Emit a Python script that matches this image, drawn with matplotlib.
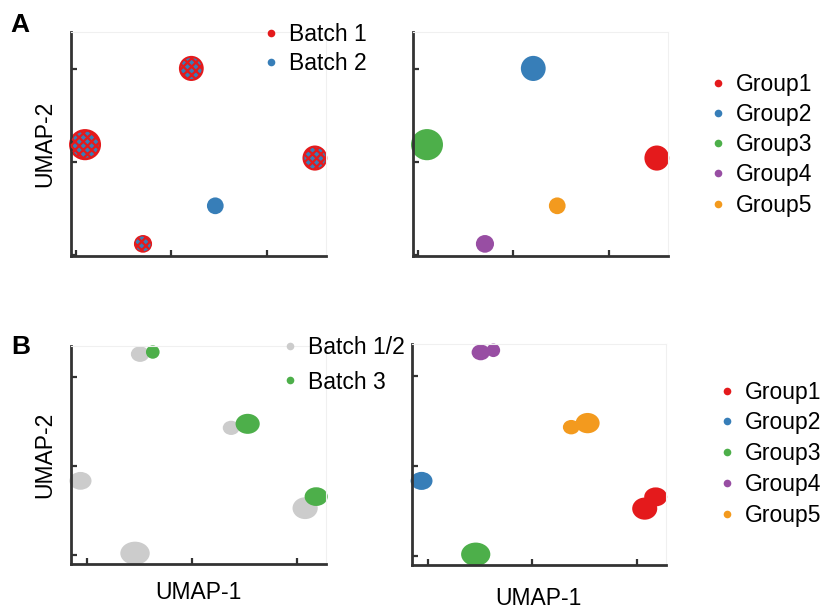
import numpy as np
import matplotlib.pyplot as plt
from matplotlib.patches import Ellipse
from matplotlib.lines import Line2D

plt.rcParams['font.family'] = ['Liberation Sans', 'DejaVu Sans']
plt.rcParams['hatch.linewidth'] = 1.6

group_names = ["Group1", "Group2", "Group3", "Group4", "Group5"]
group_colors = ["#E41A1C", "#377EB8", "#4DAF4A", "#984EA3", "#F39A1E"]

# --- Panel A: two batches, one UMAP embedding ---
a_x = [15.02, 2.08, -9.05, -2.98, 4.59]      # cluster centres, UMAP-1
a_y = [0.40, 10.03, 1.84, -8.82, -4.73]      # cluster centres, UMAP-2
a_w = [2.6, 2.6, 3.35, 1.9, 1.75]            # cluster extent, UMAP-1
a_h = [2.7, 2.7, 3.35, 1.9, 1.8]             # cluster extent, UMAP-2
a_mixed = [True, True, True, True, False]    # True: batch 1 and 2 both present
a_batch_names = ["Batch 1", "Batch 2"]
a_batch_colors = ["#E41A1C", "#377EB8"]

# --- Panel B: batch 3 added; each cluster split into its batch parts ---
b_group = [3, 3, 4, 4, 1, 0, 0, 2]
b_batch = [0, 1, 0, 1, 0, 0, 1, 0]           # 0: batch 1/2, 1: batch 3
b_x = [-4.95, -3.74, 3.72, 5.29, -10.62, 10.76, 11.81, -5.43]
b_y = [12.56, 12.79, 4.28, 4.73, -1.67, -4.74, -3.44, -9.80]
b_w = [1.75, 1.3, 1.6, 2.3, 2.1, 2.4, 2.2, 2.8]
b_h = [1.75, 1.5, 1.6, 2.25, 2.0, 2.45, 2.1, 2.6]
b_batch_names = ["Batch 1/2", "Batch 3"]
b_batch_colors = ["#CCCCCC", "#4DAF4A"]

ticks = [-10, 0, 10]
a_xlim, a_ylim = (-10.55, 16.2), (-10.1, 13.98)
b_xlim, b_ylim = (-11.55, 12.76), (-11.0, 13.48)


def style_axes(ax, xlim, ylim):
    ax.set_xlim(*xlim)
    ax.set_ylim(*ylim)
    ax.set_xticks(ticks)
    ax.set_yticks(ticks)
    ax.set_xticklabels([])
    ax.set_yticklabels([])
    ax.tick_params(direction='in', length=4, width=1.6, color='#333333')
    for side in ['left', 'bottom']:
        ax.spines[side].set_linewidth(2.0)
        ax.spines[side].set_color('#333333')
    for side in ['top', 'right']:
        ax.spines[side].set_linewidth(0.8)
        ax.spines[side].set_color('#F0F0F0')


def add_blob(ax, x, y, w, h, color, **kw):
    ax.add_patch(Ellipse((x, y), w, h, facecolor=color, edgecolor='none',
                         clip_on=False, zorder=2, **kw))


def dot_legend(ax, names, colors, anchor, spacing):
    handles = [Line2D([], [], marker='o', linestyle='none', markersize=5.5,
                      markerfacecolor=c, markeredgecolor='none') for c in colors]
    ax.legend(handles, names, loc='upper left', bbox_to_anchor=anchor,
              bbox_transform=fig.transFigure, frameon=False, fontsize=16.5,
              handletextpad=0.2, labelspacing=spacing, borderaxespad=0,
              handlelength=1.2)


fig = plt.figure(figsize=(8.32, 6.09), dpi=100)
ax_a1 = fig.add_axes([0.085, 0.580, 0.307, 0.368])
ax_a2 = fig.add_axes([0.496, 0.580, 0.307, 0.368])
ax_b1 = fig.add_axes([0.085, 0.074, 0.307, 0.358])
ax_b2 = fig.add_axes([0.495, 0.072, 0.305, 0.363])

# A, coloured by batch: mixed clusters are red with blue speckle
for x, y, w, h, mixed in zip(a_x, a_y, a_w, a_h, a_mixed):
    if mixed:
        add_blob(ax_a1, x, y, w, h, a_batch_colors[0])
        add_blob(ax_a1, x, y, w * 0.84, h * 0.84, a_batch_colors[1])
        ax_a1.add_patch(Ellipse((x, y), w * 0.9, h * 0.9, facecolor='none',
                                edgecolor=a_batch_colors[0], linewidth=0,
                                hatch='xxxx', clip_on=False, zorder=3))
    else:
        add_blob(ax_a1, x, y, w, h, a_batch_colors[1])

# A, coloured by group
for i, (x, y, w, h) in enumerate(zip(a_x, a_y, a_w, a_h)):
    add_blob(ax_a2, x, y, w, h, group_colors[i])

# B, coloured by batch and by group
for g, bt, x, y, w, h in zip(b_group, b_batch, b_x, b_y, b_w, b_h):
    add_blob(ax_b1, x, y, w, h, b_batch_colors[bt])
    add_blob(ax_b2, x, y, w, h, group_colors[g])

style_axes(ax_a1, a_xlim, a_ylim)
style_axes(ax_a2, a_xlim, a_ylim)
style_axes(ax_b1, b_xlim, b_ylim)
style_axes(ax_b2, b_xlim, b_ylim)

dot_legend(ax_a1, a_batch_names, a_batch_colors, (0.298, 0.978), 0.27)
dot_legend(ax_a2, group_names, group_colors, (0.835, 0.895), 0.31)
dot_legend(ax_b1, b_batch_names, b_batch_colors, (0.321, 0.464), 0.52)
dot_legend(ax_b2, group_names, group_colors, (0.846, 0.390), 0.34)

ax_a1.set_ylabel("UMAP-2", fontsize=16.5, labelpad=7)
ax_b1.set_ylabel("UMAP-2", fontsize=16.5, labelpad=7)
ax_b1.set_xlabel("UMAP-1", fontsize=16.5, labelpad=9)
ax_b2.set_xlabel("UMAP-1", fontsize=16.5, labelpad=12)

fig.text(0.013, 0.978, "A", fontsize=19, fontweight='bold', va='top')
fig.text(0.013, 0.450, "B", fontsize=19, fontweight='bold', va='top')

fig.savefig("out.png", dpi=100, facecolor='white')
